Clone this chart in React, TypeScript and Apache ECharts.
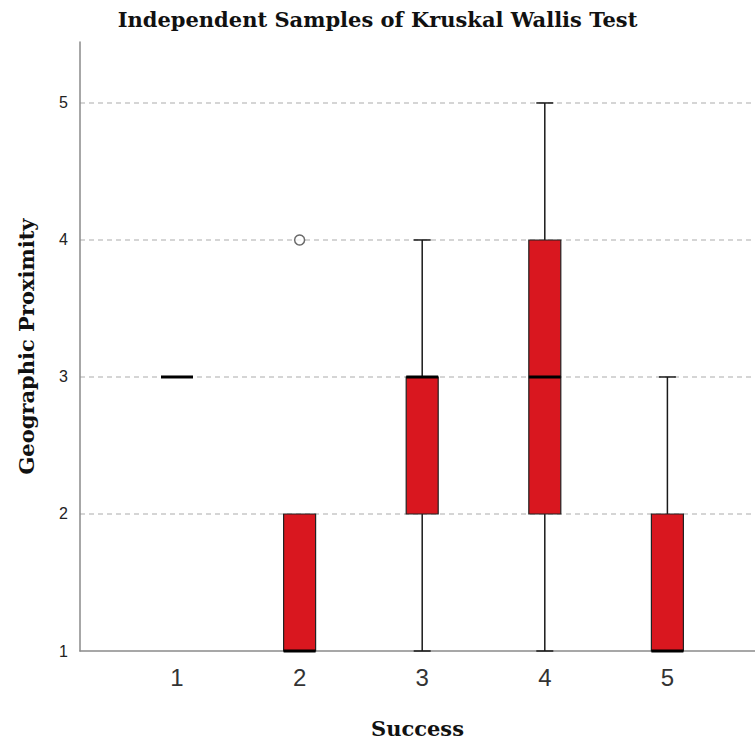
import React, { useEffect, useRef } from "react";
import * as echarts from "echarts";

const categories = ["1", "2", "3", "4", "5"];
const mins = [3, 1, 1, 1, 1];
const q1s = [3, 1, 2, 2, 1];
const medians = [3, 1, 3, 3, 1];
const q3s = [3, 2, 3, 4, 2];
const maxs = [3, 2, 4, 5, 3];
const outlierCategories = ["2"];
const outlierValues = [4];
const yMin = 1;
const yMax = 5.445;

export default function App() {
  const ref = useRef<HTMLDivElement>(null);
  useEffect(() => {
    if (!ref.current) return;
    const chart = echarts.init(ref.current, undefined, { renderer: "svg" });
    const boxData = categories.map((c, i) => [i, mins[i], q1s[i], medians[i], q3s[i], maxs[i]]);
    const outData = outlierCategories.map((c, i) => [categories.indexOf(c), outlierValues[i]]);
    const serif = "DejaVu Serif";
    const sans = "Liberation Sans";
    chart.setOption({
      animation: false,
      backgroundColor: "#ffffff",
      title: {
        text: "Independent Samples of Kruskal Wallis Test",
        left: "center",
        top: 4,
        textStyle: { fontFamily: serif, fontWeight: "bold", fontSize: 21, color: "#111" },
      },
      grid: [
        { left: 80, right: 0, top: 42, bottom: 94 },
        { left: 115.7, right: 26.3, top: 42, bottom: 94 },
      ],
      xAxis: [
        {
          type: "value",
          gridIndex: 0,
          min: 0,
          max: 1,
          axisLine: { show: true, onZero: false, lineStyle: { color: "#8a8a8a", width: 1.5 } },
          axisTick: { show: false },
          axisLabel: { show: false },
          splitLine: { show: false },
          name: "Success",
          nameLocation: "middle",
          nameGap: 67,
          nameTextStyle: { fontFamily: serif, fontWeight: "bold", fontSize: 21, color: "#111" },
        },
        {
          type: "category",
          gridIndex: 1,
          data: categories,
          axisLine: { show: false },
          axisTick: { show: false },
          axisLabel: { fontFamily: sans, fontSize: 24, color: "#333", margin: 14 },
          splitLine: { show: false },
        },
      ],
      yAxis: [
        {
          type: "value",
          gridIndex: 0,
          min: yMin,
          max: yMax,
          interval: 1,
          axisLine: { show: true, lineStyle: { color: "#8a8a8a", width: 1.5 } },
          axisTick: { show: false },
          axisLabel: { fontFamily: sans, fontSize: 16, color: "#222", margin: 12, showMaxLabel: false },
          splitLine: {
            show: true,
            showMinLine: false,
            showMaxLine: false,
            lineStyle: { color: "#c8c8c8", width: 1.5, type: [5, 4] },
          },
          name: "Geographic Proximity",
          nameLocation: "middle",
          nameGap: 43,
          nameTextStyle: { fontFamily: serif, fontWeight: "bold", fontSize: 21, color: "#111" },
        },
        {
          type: "value",
          gridIndex: 1,
          min: yMin,
          max: yMax,
          interval: 1,
          show: false,
        },
      ],
      series: [
        {
          type: "custom",
          xAxisIndex: 1,
          yAxisIndex: 1,
          data: boxData,
          encode: { x: 0, y: [1, 2, 3, 4, 5] },
          renderItem: (params: any, api: any) => {
            const idx = api.value(0);
            const cx = api.coord([idx, api.value(3)])[0];
            const yLo = api.coord([idx, api.value(1)])[1];
            const yQ1 = api.coord([idx, api.value(2)])[1];
            const yMed = api.coord([idx, api.value(3)])[1];
            const yQ3 = api.coord([idx, api.value(4)])[1];
            const yHi = api.coord([idx, api.value(5)])[1];
            const half = 16;
            const cap = 8.5;
            const lineStyle = { stroke: "#1a1a1a", lineWidth: 1.5 };
            const children: any[] = [];
            if (yLo - yQ1 > 0.5) {
              children.push({ type: "line", shape: { x1: cx, y1: yQ1, x2: cx, y2: yLo }, style: lineStyle });
              children.push({ type: "line", shape: { x1: cx - cap, y1: yLo, x2: cx + cap, y2: yLo }, style: lineStyle });
            }
            if (yQ3 - yHi > 0.5) {
              children.push({ type: "line", shape: { x1: cx, y1: yQ3, x2: cx, y2: yHi }, style: lineStyle });
              children.push({ type: "line", shape: { x1: cx - cap, y1: yHi, x2: cx + cap, y2: yHi }, style: lineStyle });
            }
            children.push({
              type: "rect",
              shape: { x: cx - half, y: yQ3, width: half * 2, height: yQ1 - yQ3 },
              style: { fill: "#d9171f", stroke: "#222", lineWidth: 1.2 },
            });
            children.push({
              type: "line",
              shape: { x1: cx - half, y1: yMed, x2: cx + half, y2: yMed },
              style: { stroke: "#000", lineWidth: 3 },
            });
            return { type: "group", children };
          },
          z: 3,
        },
        {
          type: "scatter",
          xAxisIndex: 1,
          yAxisIndex: 1,
          data: outData,
          symbol: "circle",
          symbolSize: 10,
          itemStyle: { color: "#ffffff", borderColor: "#444", borderWidth: 1.5 },
          z: 4,
        },
      ],
    });
    return () => chart.dispose();
  }, []);
  return (
    <div
      ref={ref}
      style={{ position: "fixed", left: 0, top: 0, width: 755, height: 745 }}
    />
  );
}
